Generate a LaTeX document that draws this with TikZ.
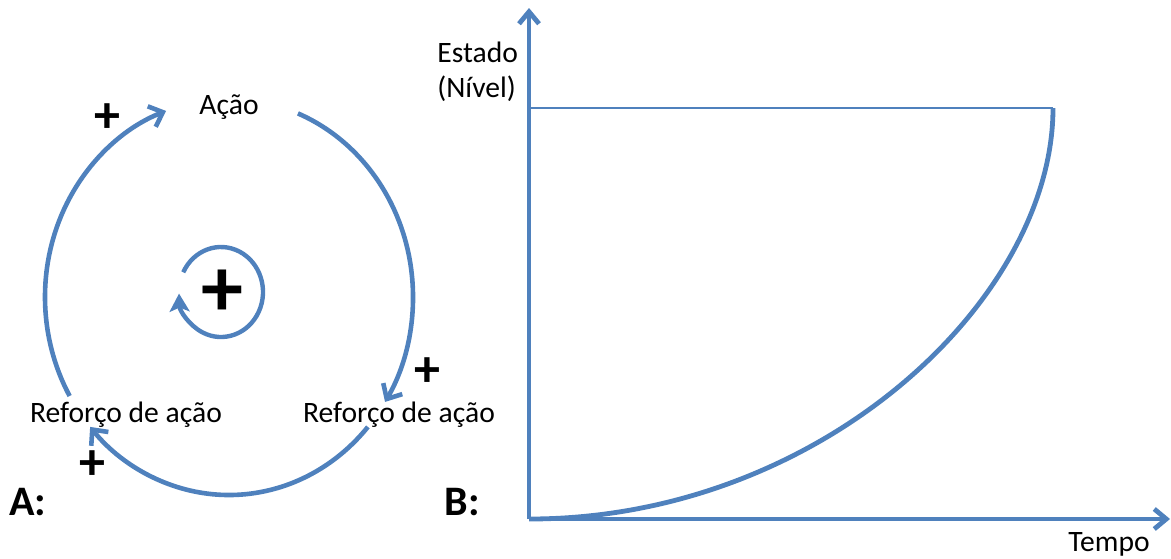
\documentclass[tikz,border=0pt]{standalone}
\usepackage{fontspec}
\setmainfont{Carlito}
\usetikzlibrary{arrows.meta}
\definecolor{lblue}{HTML}{4F81BD}
\begin{document}
\begin{tikzpicture}[x=0.5pt,y=-0.5pt,
  lbl/.style={font=\fontsize{14.8}{17}\selectfont, inner sep=0, anchor=base},
  sgn/.style={font=\fontsize{26}{26}\selectfont\bfseries, inner sep=0},
  bigsgn/.style={font=\fontsize{42}{42}\selectfont\bfseries, inner sep=0},
  tag/.style={font=\fontsize{21}{24}\selectfont\bfseries, inner sep=0, anchor=base},
  looparrow/.style={draw=lblue, line width=2.3pt, -{Straight Barb[length=6pt,width=11pt]}},
  innerarrow/.style={draw=lblue, line width=2.2pt, -{Stealth[length=9pt,width=10pt,inset=2pt]}},
  axisarrow/.style={draw=lblue, line width=2.4pt, -{Straight Barb[length=6pt,width=10pt]}},
  levelline/.style={draw=lblue, line width=1.3pt},
  growth/.style={draw=lblue, line width=2.4pt}]
\useasboundingbox (0,0) rectangle (1171,558);

% ---- Panel A ----
\coordinate (c) at (229,297);
\coordinate (ci) at (221,292);
\node[lbl] (acao) at (229,114) {Ação};
\node[lbl] (refL) at (126,422) {Reforço de ação};
\node[lbl] (refR) at (399,422) {Reforço de ação};
\node[sgn] (p1) at (107,118) {+};
\node[sgn] (p2) at (427,372) {+};
\node[sgn] (p3) at (92,465) {+};
\node[bigsgn] (pc) at (222,293) {+};
\node[tag] (A) at (28,515) {A:};

\draw[looparrow] (c) ++(-68:184 and 198) arc[start angle=-68, end angle=32, x radius=184, y radius=198];
\draw[looparrow] (c) ++(41:184 and 198) arc[start angle=41, end angle=139, x radius=184, y radius=198];
\draw[looparrow] (c) ++(150:184 and 198) arc[start angle=150, end angle=250, x radius=184, y radius=198];
\draw[innerarrow] (ci) ++(-154:42 and 45) arc[start angle=-154, end angle=178, x radius=42, y radius=45];

% ---- Panel B ----
\coordinate (o) at (529,519);
\coordinate (ytip) at (529,8);
\coordinate (xtip) at (1170,519);
\coordinate (ytop) at (529,108);
\coordinate (top) at (1053,108);
\node[tag] (B) at (462,515) {B:};
\node[lbl, anchor=base west] (estado) at (437,62) {Estado};
\node[lbl, anchor=base west] (nivel) at (437,97) {(Nível)};
\node[lbl, anchor=base west] (tempo) at (1068,551) {Tempo};

\draw[levelline] (ytop) -- (top);
\draw[growth] (o) .. controls (820,519) and (1053,300) .. (top);
\draw[axisarrow] (o) -- (ytip);
\draw[axisarrow] (o) -- (xtip);
\end{tikzpicture}
\end{document}
